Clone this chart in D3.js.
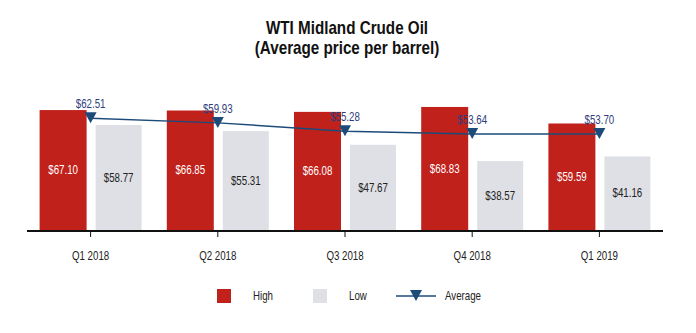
<!DOCTYPE html>
<html><head><meta charset="utf-8">
<script src="https://cdn.jsdelivr.net/npm/d3@7"></script>
<style>body{margin:0;background:#fff}svg{display:block}</style>
</head><body>
<script>
const categories = ["Q1 2018","Q2 2018","Q3 2018","Q4 2018","Q1 2019"];
const high = [67.10, 66.85, 66.08, 68.83, 59.59];
const low = [58.77, 55.31, 47.67, 38.57, 41.16];
const average = [62.51, 59.93, 55.28, 53.64, 53.70];
const titleLines = ["WTI Midland Crude Oil","(Average price per barrel)"];
const legendItems = ["High","Low","Average"];

const W=696,H=333;
const font = "'Liberation Sans',Arial,sans-serif";
const SX=0.81;
const RED="#c0211b", GRAY="#dfe0e5", NAVY="#1c4b7a", LBL="#2f3d7c";
const svg=d3.select("body").append("svg").attr("width",W).attr("height",H)
  .style("font-family",font);

const x=d3.scaleBand().domain(categories).range([27,663]).padding(0);
const y=d3.scaleLinear().domain([0,80]).range([230,87]);
const fmt=v=>"$"+v.toFixed(2);
const place=(px,py,s)=>`translate(${px},${py}) scale(${s||SX},1)`;

svg.selectAll("text.title").data(titleLines).join("text")
  .attr("transform",(d,i)=>place(347,34+i*20,0.845)).attr("text-anchor","middle")
  .attr("font-size",18).attr("font-weight","bold").attr("fill","#111").text(d=>d);

const g=svg.append("g");
const cx=d=>x(d)+x.bandwidth()/2;

g.selectAll("rect.high").data(categories).join("rect")
  .attr("x",d=>cx(d)-51).attr("width",47)
  .attr("y",(d,i)=>y(high[i])).attr("height",(d,i)=>y(0)-y(high[i]))
  .attr("fill",RED);
g.selectAll("rect.low").data(categories).join("rect")
  .attr("x",d=>cx(d)+5).attr("width",46)
  .attr("y",(d,i)=>y(low[i])).attr("height",(d,i)=>y(0)-y(low[i]))
  .attr("fill",GRAY);

g.selectAll("text.hl").data(categories).join("text")
  .attr("transform",(d,i)=>place(cx(d)-27.5,(y(high[i])+y(0))/2))
  .attr("dy","0.35em").attr("text-anchor","middle").attr("font-size",12)
  .attr("fill","#fff").text((d,i)=>fmt(high[i]));
g.selectAll("text.ll").data(categories).join("text")
  .attr("transform",(d,i)=>place(cx(d)+28,(y(low[i])+y(0))/2))
  .attr("dy","0.35em").attr("text-anchor","middle").attr("font-size",12)
  .attr("fill","#222").text((d,i)=>fmt(low[i]));

// axis
const ax=g.append("g").attr("transform","translate(0,231)")
  .call(d3.axisBottom(x).tickSize(6).tickPadding(14));
ax.select(".domain").attr("stroke","#111").attr("stroke-width",2).attr("d","M27,0H663");
ax.selectAll(".tick line").attr("stroke","#111");
ax.selectAll(".tick text").attr("font-size",12).attr("font-family",font).attr("fill","#222")
  .attr("transform",`scale(${SX},1)`);

// average line
const line=d3.line().x((d,i)=>cx(categories[i])).y(d=>y(d));
g.append("path").datum(average).attr("d",line).attr("fill","none")
  .attr("stroke",NAVY).attr("stroke-width",1.5);
const tri="M-6,-6L6,-6L0,5Z";
g.selectAll("path.mk").data(average).join("path")
  .attr("transform",(d,i)=>`translate(${cx(categories[i])},${y(d)})`)
  .attr("d",tri).attr("fill",NAVY);
g.selectAll("text.al").data(average).join("text")
  .attr("transform",(d,i)=>place(cx(categories[i]),y(d)-14))
  .attr("dy","0.35em").attr("text-anchor","middle").attr("font-size",12)
  .attr("fill",LBL).text(d=>fmt(d));

// legend
const lg=svg.append("g");
lg.append("rect").attr("x",217).attr("y",289).attr("width",14).attr("height",14).attr("fill",RED);
lg.append("text").attr("transform",place(253,296)).attr("dy","0.35em").attr("font-size",12).attr("fill","#222").text(legendItems[0]);
lg.append("rect").attr("x",313).attr("y",289).attr("width",14).attr("height",14).attr("fill",GRAY);
lg.append("text").attr("transform",place(349,296)).attr("dy","0.35em").attr("font-size",12).attr("fill","#222").text(legendItems[1]);
lg.append("line").attr("x1",396).attr("x2",436).attr("y1",296).attr("y2",296).attr("stroke",NAVY).attr("stroke-width",1.5);
lg.append("path").attr("transform","translate(416,296)").attr("d",tri).attr("fill",NAVY);
lg.append("text").attr("transform",place(445,296)).attr("dy","0.35em").attr("font-size",12).attr("fill","#222").text(legendItems[2]);
</script>
</body></html>
